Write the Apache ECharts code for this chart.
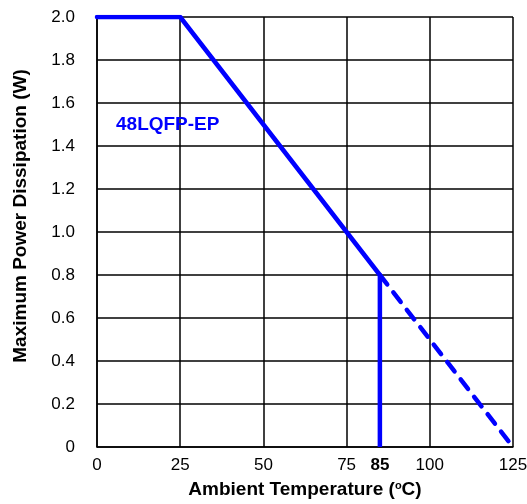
<!DOCTYPE html>
<html>
<head>
<meta charset="utf-8">
<script src="https://cdn.jsdelivr.net/npm/echarts@6/dist/echarts.min.js"></script>
<style>
html, body { margin: 0; padding: 0; background: #fff; }
#chart { width: 527px; height: 504px; }
</style>
</head>
<body>
<div id="chart"></div>
<script>
// derating curve, 48LQFP-EP
const xTicks = [0, 25, 50, 75, 100, 125];
const yTicks = [0, 0.2, 0.4, 0.6, 0.8, 1.0, 1.2, 1.4, 1.6, 1.8, 2.0];
const solidPts = [[0, 2.0], [25, 2.0], [85, 0.8]];
const dropPts = [[85, 0.8], [85, 0]];
const dashPts = [[85, 0.8], [125, 0]];
const markTemp = 85;
const packageName = '48LQFP-EP';

const blue = '#0000ff';
const font = 'Liberation Sans, Arial, sans-serif';

const chart = echarts.init(document.getElementById('chart'));
const option = {
    animation: false,
    grid: { left: 97, right: 14, top: 17, bottom: 57, outerBoundsMode: 'none' },
    title: {
        text: packageName,
        left: 111, top: 110,
        textStyle: { color: blue, fontSize: 19, fontWeight: 'bold', fontFamily: font }
    },
    xAxis: [
        {
            type: 'value', min: 0, max: 125, interval: 25,
            name: 'Ambient Temperature ({s|o}C)',
            nameLocation: 'middle', nameGap: 33,
            nameTextStyle: {
                color: '#000', fontSize: 19, fontWeight: 'bold', fontFamily: font,
                rich: { s: { fontSize: 11, fontWeight: 'bold', verticalAlign: 'top', padding: [0, 0, 9, 0], fontFamily: font } }
            },
            axisLine: { show: true, lineStyle: { color: '#000', width: 1.5 } },
            axisTick: { show: false },
            axisLabel: {
                color: '#000', fontSize: 17, fontFamily: font, margin: 10,
                formatter: v => xTicks.includes(v) ? String(v) : ''
            },
            splitLine: { show: true, lineStyle: { color: '#000', width: 1.5 } }
        },
        {
            type: 'value', min: 0, max: 125, interval: 5, position: 'bottom',
            axisLine: { show: false }, axisTick: { show: false }, splitLine: { show: false },
            axisLabel: {
                fontSize: 17, fontFamily: font, margin: 10, color: '#000',
                formatter: v => v === markTemp ? '{b|' + v + '}' : '',
                rich: { b: { fontSize: 17, fontWeight: 'bold', fontFamily: font, color: '#000' } }
            }
        }
    ],
    yAxis: {
        type: 'value', min: 0, max: 2.0, interval: 0.2,
        name: 'Maximum Power Dissipation (W)',
        nameLocation: 'middle', nameGap: 67,
        nameTextStyle: {
            color: '#000', fontSize: 19, fontWeight: 'bold', fontFamily: font,
            padding: [0, 0, 0, 32]
        },
        axisLine: { show: true, lineStyle: { color: '#000', width: 1.5 } },
        axisTick: { show: false },
        axisLabel: {
            color: '#000', fontSize: 17, fontFamily: font, margin: 22,
            formatter: v => v === 0 ? '0' : v.toFixed(1)
        },
        splitLine: { show: true, lineStyle: { color: '#000', width: 1.5 } }
    },
    series: [
        {
            type: 'line', data: solidPts, symbol: 'none', z: 5,
            lineStyle: { color: blue, width: 4.5, cap: 'round', join: 'round' }
        },
        {
            type: 'line', data: dropPts, symbol: 'none', z: 5,
            lineStyle: { color: blue, width: 4.5 }
        },
        {
            type: 'line', data: dashPts, symbol: 'none', z: 5,
            lineStyle: { color: blue, width: 4.5, type: [12, 10], cap: 'round' }
        }
    ]
};
chart.setOption(option);
</script>
</body>
</html>
